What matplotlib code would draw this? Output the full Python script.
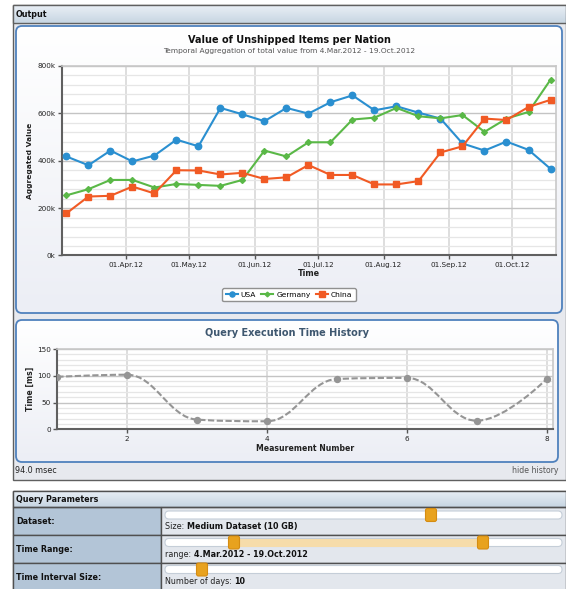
import numpy as np
import pandas as pd
import matplotlib
matplotlib.use('Agg')
import matplotlib.pyplot as plt
import matplotlib.dates as mdates
from matplotlib.patches import FancyBboxPatch, Rectangle, PathPatch
from matplotlib.path import Path
from matplotlib.colors import LinearSegmentedColormap
from matplotlib.ticker import MultipleLocator, FuncFormatter

# ---------------- data ----------------
dates = pd.date_range('2012-03-04', '2012-10-19', periods=23)
usa = [418, 381, 443, 397, 422, 489, 461, 623, 596, 567, 623, 599,
       647, 676, 613, 630, 603, 578, 473, 443, 481, 446, 366]
germany = [254, 280, 319, 319, 287, 302, 298, 294, 319, 443, 418, 478,
           478, 574, 582, 623, 588, 579, 593, 522, 578, 606, 742]
china = [178, 249, 252, 291, 262, 360, 359, 342, 349, 323, 330, 382,
         340, 340, 300, 300, 314, 435, 461, 578, 572, 627, 657]

measure_no = [1, 2, 3, 4, 5, 6, 7, 8]
exec_ms = [98, 102, 18, 15, 94, 96, 16, 94]

# slider positions (pixels of the screenshot)
dataset_handle = 431
range_handles = (234, 483)
interval_handle = 202

W, H = 566, 589
fig = plt.figure(figsize=(W / 100, H / 100), dpi=100, facecolor='white')

# overlay in screen pixels for the page furniture
ui = fig.add_axes([0, 0, 1, 1], zorder=0)
ui.set_xlim(0, W)
ui.set_ylim(H, 0)
ui.axis('off')


def grad_box(x0, y0, x1, y1, top, bot, ec, r=0, lw=1.0, z=1):
    style = f'round,pad=0,rounding_size={r}' if r else 'square,pad=0'
    p = FancyBboxPatch((x0, y0), x1 - x0, y1 - y0, boxstyle=style,
                       fc='none', ec=ec, lw=lw, zorder=z + 0.5)
    ui.add_patch(p)
    cm = LinearSegmentedColormap.from_list('g', [top, bot])
    im = ui.imshow(np.linspace(0, 1, 64)[:, None], extent=(x0, x1, y1, y0),
                   cmap=cm, aspect='auto', zorder=z, interpolation='bilinear')
    im.set_clip_path(p)
    return p


# ---- Output panel ----
ui.add_patch(Rectangle((12.5, 5), W - 13, 474.5, fc='#e7e9ee', ec='#606060', lw=1, zorder=0.5))
grad_box(12.5, 5, W - 0.5, 23, '#eaf0f6', '#c7d5e2', '#606060', z=1)
ui.text(16, 14.5, 'Output', fontsize=5.8, fontweight='bold', va='center', ha='left', color='#111')

grad_box(16, 26, 562, 313, '#ffffff', '#eceef5', '#4f81bd', r=6, lw=1.3, z=1)
grad_box(16, 320, 558, 462, '#ffffff', '#eceef5', '#4f81bd', r=6, lw=1.3, z=1)

ui.text(289, 40, 'Value of Unshipped Items per Nation', fontsize=7.0,
        fontweight='bold', ha='center', va='center', color='#111')
ui.text(289, 51, 'Temporal Aggregation of total value from 4.Mar.2012 - 19.Oct.2012',
        fontsize=5.4, ha='center', va='center', color='#555')
ui.text(287, 333.5, 'Query Execution Time History', fontsize=7,
        fontweight='bold', ha='center', va='center', color='#3e576f')
ui.text(15, 470.5, '94.0 msec', fontsize=5.8, ha='left', va='center', color='#222')
ui.text(558, 470.5, 'hide history', fontsize=5.6, ha='right', va='center', color='#555')

# ---- Query Parameters panel ----
ui.add_patch(Rectangle((12.5, 490.5), W - 13, 100, fc='#e3e7ed', ec='#505050', lw=1, zorder=0.5))
grad_box(12.5, 490.5, W - 0.5, 507, '#eaf0f6', '#c7d5e2', '#505050', z=1)
ui.text(16, 499, 'Query Parameters', fontsize=5.8, fontweight='bold', va='center', ha='left', color='#111')

rows = [('Dataset:', 507, 535), ('Time Range:', 535, 563), ('Time Interval Size:', 563, 591)]
for label, r0, r1 in rows:
    ui.add_patch(Rectangle((12.5, r0), 148.5, r1 - r0, fc='#b3c5d7', ec='#505050', lw=1, zorder=1))
    ui.add_patch(Rectangle((161, r0), W - 161.5, r1 - r0, fc='#e3e7ed', ec='#505050', lw=1, zorder=1))
    ui.text(16, (r0 + r1) / 2, label, fontsize=5.8, fontweight='bold', va='center', ha='left', color='#111')


def slider(yc, handles):
    ui.add_patch(FancyBboxPatch((165, yc - 4), 397, 8, boxstyle='round,pad=0,rounding_size=4',
                                fc='white', ec='#c5ced8', lw=0.8, zorder=2))
    if len(handles) == 2:
        ui.add_patch(Rectangle((handles[0], yc - 4), handles[1] - handles[0], 8,
                               fc='#f6dcaa', ec='none', zorder=2.2))
    for hx in handles:
        ui.add_patch(FancyBboxPatch((hx - 5.5, yc - 6.5), 11, 13, boxstyle='round,pad=0,rounding_size=2',
                                    fc='#e8a21e', ec='#d58c12', lw=0.8, zorder=3))


def value_text(y, plain, bold):
    t = ui.text(165, y, plain, fontsize=5.8, ha='left', va='baseline', color='#222')
    ui.annotate(bold, xy=(1, 0), xycoords=t, fontsize=5.8, fontweight='bold',
                ha='left', va='bottom', color='#111')


slider(515, [dataset_handle])
value_text(529, 'Size: ', 'Medium Dataset (10 GB)')
slider(542.5, list(range_handles))
value_text(557, 'range: ', '4.Mar.2012 - 19.Oct.2012')
slider(569.5, [interval_handle])
value_text(584, 'Number of days: ', '10')

# ---------------- main chart ----------------
ax = fig.add_axes([62 / W, 1 - 255.5 / H, 494 / W, 189.5 / H], zorder=2)
ax.set_facecolor('white')
ax.plot(dates, usa, '-o', color='#2a8fd0', lw=1.5, ms=4.6, label='USA', zorder=3)
ax.plot(dates, germany, '-D', color='#5ab847', lw=1.5, ms=3.0, label='Germany', zorder=3)
ax.plot(dates, china, '-s', color='#f15a24', lw=1.5, ms=4.6, label='China', zorder=3)

x0 = mdates.date2num(pd.Timestamp('2012-03-04')) - 2.1
x1 = mdates.date2num(pd.Timestamp('2012-10-19')) + 2.6
ax.set_xlim(x0, x1)
ax.set_ylim(0, 800)
ax.xaxis.set_major_locator(mdates.MonthLocator(bymonthday=1))
ax.xaxis.set_major_formatter(mdates.DateFormatter('%d.%b.%y'))
ax.yaxis.set_major_locator(MultipleLocator(200))
ax.yaxis.set_minor_locator(MultipleLocator(40))
ax.yaxis.set_major_formatter(FuncFormatter(lambda v, p: f'{v:.0f}k'))
ax.set_axisbelow(True)
ax.grid(axis='y', which='major', color='#c4c4c4', lw=1)
ax.grid(axis='y', which='minor', color='#e6e6e6', lw=0.9)
ax.grid(axis='x', which='major', color='#d8d8d8', lw=1.2)
ax.tick_params(axis='both', which='major', length=3, width=1, color='#555',
               pad=1.5, labelsize=5.2, labelcolor='#222')
ax.tick_params(axis='y', which='minor', length=0)
for s in ('left', 'bottom'):
    ax.spines[s].set_color('#606060')
    ax.spines[s].set_linewidth(1.5)
for s in ('top', 'right'):
    ax.spines[s].set_color('#c8c8c8')
    ax.spines[s].set_linewidth(1.2)
ax.set_xlabel('Time', fontsize=5.8, fontweight='bold', labelpad=1, color='#222')
ax.set_ylabel('Aggregated Value', fontsize=5.4, fontweight='bold', labelpad=3, color='#222')
ax.legend(loc='center', bbox_to_anchor=(289 / W, 1 - 294.5 / H), bbox_transform=fig.transFigure,
          ncol=3, fontsize=5.4, frameon=True, fancybox=True, edgecolor='#909090',
          handlelength=1.6, handletextpad=0.4, columnspacing=0.7, borderpad=0.45,
          framealpha=1, markerscale=0.8)

# ---------------- execution time chart ----------------
bx = fig.add_axes([57.3 / W, 1 - 429.3 / H, 495.7 / W, 80.3 / H], zorder=2)
bx.set_facecolor('white')


def spline_path(xs, ys, smoothing=1.5):
    # Highcharts-style spline control points
    n = len(xs)
    verts = [(xs[0], ys[0])]
    codes = [Path.MOVETO]
    lc = [None] * n
    rc = [None] * n
    for i in range(n):
        px, py = xs[i], ys[i]
        if i == 0 or i == n - 1:
            lc[i] = rc[i] = (px, py)
            continue
        lx, ly = xs[i - 1], ys[i - 1]
        nx, ny = xs[i + 1], ys[i + 1]
        d = smoothing + 1
        lcx, lcy = (smoothing * px + lx) / d, (smoothing * py + ly) / d
        rcx, rcy = (smoothing * px + nx) / d, (smoothing * py + ny) / d
        corr = (rcy - lcy) * (rcx - px) / (rcx - lcx) + py - rcy
        lcy += corr
        rcy += corr
        if lcy > ly and lcy > py:
            lcy = max(ly, py); rcy = 2 * py - lcy
        elif lcy < ly and lcy < py:
            lcy = min(ly, py); rcy = 2 * py - lcy
        if rcy > ny and rcy > py:
            rcy = max(ny, py); lcy = 2 * py - rcy
        elif rcy < ny and rcy < py:
            rcy = min(ny, py); lcy = 2 * py - rcy
        lc[i] = (lcx, lcy)
        rc[i] = (rcx, rcy)
    for i in range(1, n):
        verts += [rc[i - 1], lc[i], (xs[i], ys[i])]
        codes += [Path.CURVE4] * 3
    return Path(verts, codes)


bx.add_patch(PathPatch(spline_path(measure_no, exec_ms), fc='none', ec='#959595',
                       lw=1.5, ls=(0, (3, 1.2)), zorder=3))
bx.plot(measure_no, exec_ms, 'o', color='#959595', ms=4.3, zorder=4)
bx.set_xlim(1, 8.09)
bx.set_ylim(0, 150)
bx.set_xticks([2, 4, 6, 8])
bx.yaxis.set_major_locator(MultipleLocator(50))
bx.yaxis.set_minor_locator(MultipleLocator(10))
bx.set_axisbelow(True)
bx.grid(axis='y', which='major', color='#c4c4c4', lw=1)
bx.grid(axis='y', which='minor', color='#e6e6e6', lw=0.9)
bx.grid(axis='x', which='major', color='#d8d8d8', lw=1.2)
bx.tick_params(axis='both', which='major', length=3, width=1, color='#555',
               pad=1.5, labelsize=5.2, labelcolor='#222')
bx.tick_params(axis='y', which='minor', length=0)
for s in ('left', 'bottom'):
    bx.spines[s].set_color('#606060')
    bx.spines[s].set_linewidth(1.5)
for s in ('top', 'right'):
    bx.spines[s].set_color('#c8c8c8')
    bx.spines[s].set_linewidth(1.2)
bx.set_xlabel('Measurement Number', fontsize=5.6, fontweight='bold', labelpad=2, color='#222')
bx.set_ylabel('Time [ms]', fontsize=5.6, fontweight='bold', labelpad=2, color='#222')

fig.savefig('out.png', dpi=100, facecolor='white')
